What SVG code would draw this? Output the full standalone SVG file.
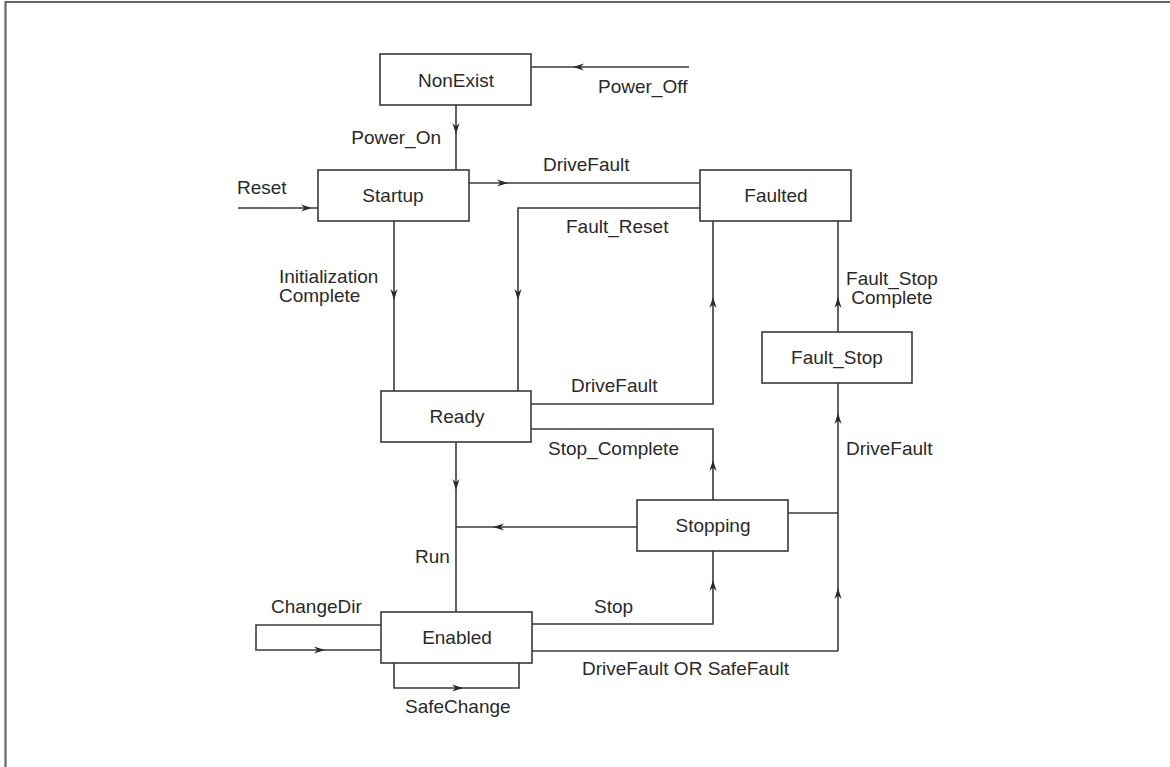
<svg xmlns="http://www.w3.org/2000/svg" width="1170" height="767" viewBox="0 0 1170 767">
<style>
.box{fill:#fff;stroke:#3a3a3a;stroke-width:1.6}
.ln{fill:none;stroke:#3a3a3a;stroke-width:1.6}
.ar{fill:none;stroke:none}
text{font-family:"Liberation Sans",Arial,Helvetica,sans-serif;font-size:19px;fill:#2a2a2a}
.c{text-anchor:middle}
</style>
<defs>
<marker id="ah" markerUnits="userSpaceOnUse" markerWidth="14" markerHeight="10" viewBox="-12 -5 14 10" refX="0" refY="0" orient="auto">
<path d="M0,0 L-11,-3.6 L-7.5,0 L-11,3.6 Z" fill="#2a2a2a"/>
</marker>
</defs>
<rect width="1170" height="767" fill="#fff"/>
<g id="frame">
<line x1="5.5" y1="2" x2="1170" y2="2" stroke="#666" stroke-width="2.2"/>
<line x1="5.5" y1="1" x2="5.5" y2="767" stroke="#666" stroke-width="2.2"/>
</g>
<g id="connectors">
<path class="ln" d="M689,67 L531,67"/>
<path class="ar" d="M590,67 L573,67" marker-end="url(#ah)"/>
<path class="ln" d="M456,105 L456,170"/>
<path class="ar" d="M456,120 L456,134" marker-end="url(#ah)"/>
<path class="ln" d="M238,208 L318,208"/>
<path class="ar" d="M290,208 L312,208" marker-end="url(#ah)"/>
<path class="ln" d="M469,183 L700,183"/>
<path class="ar" d="M490,183 L508,183" marker-end="url(#ah)"/>
<path class="ln" d="M700,208 L518,208 L518,391"/>
<path class="ar" d="M518,280 L518,300" marker-end="url(#ah)"/>
<path class="ln" d="M394,221 L394,391"/>
<path class="ar" d="M394,280 L394,300" marker-end="url(#ah)"/>
<path class="ln" d="M531,404 L713,404 L713,221"/>
<path class="ar" d="M713,320 L713,297" marker-end="url(#ah)"/>
<path class="ln" d="M713,500 L713,429 L531,429"/>
<path class="ar" d="M713,480 L713,460" marker-end="url(#ah)"/>
<path class="ln" d="M838,332 L838,221"/>
<path class="ar" d="M838,320 L838,297" marker-end="url(#ah)"/>
<path class="ln" d="M838,651 L838,383"/>
<path class="ar" d="M838,430 L838,413" marker-end="url(#ah)"/>
<path class="ar" d="M838,610 L838,588" marker-end="url(#ah)"/>
<path class="ln" d="M788,513 L838,513"/>
<path class="ln" d="M637,527 L456,527"/>
<path class="ar" d="M520,527 L493,527" marker-end="url(#ah)"/>
<path class="ln" d="M456,442 L456,612"/>
<path class="ar" d="M456,470 L456,490" marker-end="url(#ah)"/>
<path class="ln" d="M532,624 L713,624 L713,551"/>
<path class="ar" d="M713,600 L713,580" marker-end="url(#ah)"/>
<path class="ln" d="M532,651 L838,651"/>
<path class="ln" d="M381,625 L256,625 L256,650 L381,650"/>
<path class="ar" d="M300,650 L325,650" marker-end="url(#ah)"/>
<path class="ln" d="M394,663 L394,688 L519,688 L519,663"/>
<path class="ar" d="M440,688 L463,688" marker-end="url(#ah)"/>
</g>
<g id="labels">
<text x="598" y="93">Power_Off</text>
<text x="441" y="144" text-anchor="end">Power_On</text>
<text x="237" y="194">Reset</text>
<text x="543" y="171">DriveFault</text>
<text x="566" y="233">Fault_Reset</text>
<text x="279" y="283">Initialization</text>
<text x="279" y="302">Complete</text>
<text x="571" y="392">DriveFault</text>
<text x="548" y="455">Stop_Complete</text>
<text x="892" y="285" class="c">Fault_Stop</text>
<text x="892" y="304" class="c">Complete</text>
<text x="846" y="455">DriveFault</text>
<text x="415" y="563">Run</text>
<text x="271" y="613">ChangeDir</text>
<text x="594" y="613">Stop</text>
<text x="582" y="675">DriveFault OR SafeFault</text>
<text x="405" y="713">SafeChange</text>
</g>
<g id="NonExist"><rect class="box" x="380" y="54" width="151" height="51"/><text x="456" y="87" class="c">NonExist</text></g>
<g id="Startup"><rect class="box" x="318" y="170" width="151" height="51"/><text x="393" y="202" class="c">Startup</text></g>
<g id="Faulted"><rect class="box" x="700" y="170" width="151" height="51"/><text x="776" y="202" class="c">Faulted</text></g>
<g id="Fault_Stop"><rect class="box" x="762" y="332" width="150" height="51"/><text x="837" y="364" class="c">Fault_Stop</text></g>
<g id="Ready"><rect class="box" x="381" y="391" width="150" height="51"/><text x="457" y="423" class="c">Ready</text></g>
<g id="Stopping"><rect class="box" x="637" y="500" width="151" height="51"/><text x="713" y="532" class="c">Stopping</text></g>
<g id="Enabled"><rect class="box" x="381" y="612" width="151" height="51"/><text x="457" y="644" class="c">Enabled</text></g>
</svg>
